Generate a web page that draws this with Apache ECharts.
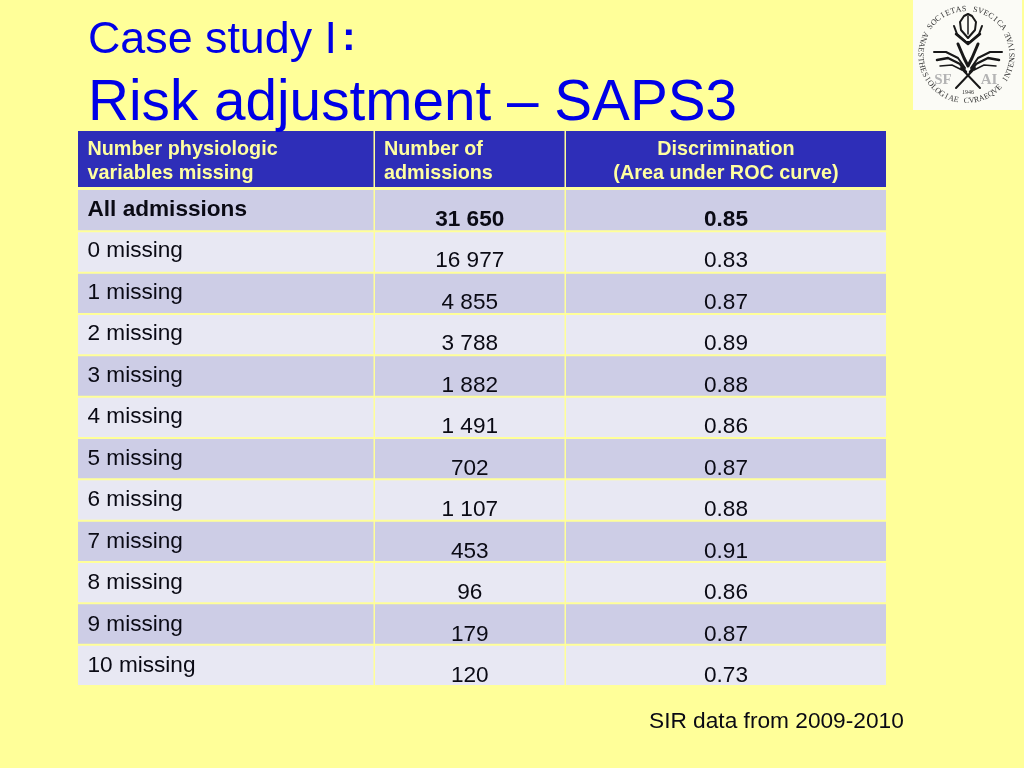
<!DOCTYPE html>
<html><head><meta charset="utf-8">
<style>html,body{margin:0;padding:0;background:#ffff99}#c{width:1024px;height:768px}</style>
<script src="https://cdn.jsdelivr.net/npm/echarts@6/dist/echarts.min.js"></script>
</head><body><div id="c"></div>
<script>
const headers = [['Number physiologic','variables missing'],['Number of','admissions'],['Discrimination','(Area under ROC curve)']];
const categories = ['All admissions','0 missing','1 missing','2 missing','3 missing','4 missing','5 missing','6 missing','7 missing','8 missing','9 missing','10 missing'];
const admissions = [31650,16977,4855,3788,1882,1491,702,1107,453,96,179,120];
const discrimination = [0.85,0.83,0.87,0.89,0.88,0.86,0.87,0.88,0.91,0.86,0.87,0.73];

const colEdges = [0,295.5,486.5,808];
const fontFam = '"Liberation Sans",Arial,sans-serif';
const fmtCount = v => String(v).replace(/\B(?=(\d{3})+$)/g,' ');
const colX = (api,c)=>[api.coord([colEdges[c],0])[0],api.coord([colEdges[c+1],0])[0]];

function bodyCell(params,api){
  const c=api.value(0), r=api.value(1);
  const [x0,x1]=colX(api,c);
  const cy=api.coord([0,r])[1], h=api.size([0,1])[1];
  const bold=r===0;
  const text=c===0?categories[r]:c===1?fmtCount(admissions[r]):discrimination[r].toFixed(2);
  const rect={type:'rect',shape:{x:x0+(c?1.5:0),y:cy-h/2+(r?1:0),width:x1-x0-(c?1.5:0),height:h-(r?2:1)},
    style:{fill:r%2===0?'#cdcde6':'#e8e8f3'}};
  const label={type:'text',style:{
    x:c===0?x0+9.5:(x0+x1+1.5)/2, y:c===0?cy-1+r*0.14:cy+8.7+r*0.18, text,
    fill:'#0a0a14', fontFamily:fontFam, fontSize:22.6, fontWeight:bold?'bold':'normal',
    align:c===0?'left':'center', verticalAlign:'middle'}};
  return {type:'group',children:[rect,label]};
}
function headCell(params,api){
  const c=api.value(0);
  const [x0,x1]=colX(api,c);
  const cy=api.coord([0,0])[1], h=api.size([0,1])[1];
  const rect={type:'rect',shape:{x:x0+(c?1.5:0),y:cy-h/2,width:x1-x0-(c?1.5:0),height:h},style:{fill:'#2e2eb8'}};
  const lines=headers[c].map((t,i)=>({type:'text',style:{
    x:c===2?(x0+x1+1.5)/2:x0+(c?10.5:9.5), y:cy-9.5+i*24, text:t, fill:'#ffffa0',
    fontFamily:fontFam, fontSize:19.8, fontWeight:'bold', align:c===2?'center':'left', verticalAlign:'middle'}}));
  return {type:'group',children:[rect,...lines]};
}
const bodyData=[]; categories.forEach((_,r)=>[0,1,2].forEach(c=>bodyData.push([c,r])));
const headData=[[0,0],[1,0],[2,0]];

/* society seal in the corner, a decorative image in the reference */
const sealC=[966.5,55];
function arcLetters(str,r,startDeg,stepDeg,bottom){
  return str.split('').map((ch,i)=>{
    const a=(startDeg+i*stepDeg)*Math.PI/180;
    return {type:'text',silent:true,x:sealC[0]+r*Math.sin(a),y:sealC[1]-r*Math.cos(a),
      rotation:bottom?-(a-Math.PI):-a,
      style:{text:ch,fill:'#333',font:'8px "Liberation Serif",serif',align:'center',verticalAlign:'middle'}};
  });
}
const sealStrokes=[
 [2,[[968,38],[961,30],[960,22],[964,16],[968,14],[972,16],[976,22],[975,30],[968,38]]],
 [1.5,[[968,16],[968,34]]],
 [2,[[954,26],[957,34],[966,42],[970,42],[979,34],[982,26]]],
 [2.5,[[956,34],[968,44],[980,34]]],
 [3,[[958,44],[964,58],[968,66],[972,58],[978,44]]],
 [2,[[934,52],[946,52],[958,58],[965,68]]],
 [2,[[1002,52],[990,52],[978,58],[971,68]]],
 [2.5,[[937,60],[948,58],[960,64],[966,72]]],
 [2.5,[[999,60],[988,58],[976,64],[970,72]]],
 [1.5,[[940,66],[952,65],[962,70]]],
 [1.5,[[996,66],[984,65],[974,70]]],
 [2,[[961,68],[980,88]]],
 [2,[[975,68],[956,88]]]
];
const graphics=[
 {type:'rect',silent:true,shape:{x:913,y:0,width:109,height:110},style:{fill:'#fbfbf6'}},
 ...arcLetters('SOCIETAS SVECICA',46,-52,7,false),
 ...arcLetters('ANAESTHESIOLOGIAE CVRAEQVE INTENSIVAE',46,296,-6.44,true),
 ...sealStrokes.map(([w,p])=>({type:'polyline',silent:true,shape:{points:p},style:{fill:null,stroke:'#181818',lineWidth:w,lineJoin:'round',lineCap:'round'}})),
 {type:'text',silent:true,x:943,y:80,style:{text:'SF',fill:'#b4b4b4',font:'bold 15px "Liberation Serif",serif',align:'center',verticalAlign:'middle'}},
 {type:'text',silent:true,x:989,y:80,style:{text:'AI',fill:'#b4b4b4',font:'bold 15px "Liberation Serif",serif',align:'center',verticalAlign:'middle'}},
 {type:'text',silent:true,x:968,y:92,style:{text:'1946',fill:'#333',font:'6px "Liberation Serif",serif',align:'center',verticalAlign:'middle'}}
];

const chart=echarts.init(document.getElementById('c'),null,{renderer:'canvas'});
const hiddenAxis={show:false};
chart.setOption({
  animation:false,
  backgroundColor:'#ffff99',
  title:[
    {text:'Case study I',left:88,top:18,padding:0,textStyle:{color:'#0000e6',fontFamily:fontFam,fontWeight:'normal',fontSize:44.8}},
    {text:':',left:342,top:18,padding:0,textStyle:{color:'#0000e6',fontFamily:fontFam,fontWeight:'bold',fontSize:41}},
    {text:'Risk adjustment – SAPS3',left:88,top:76,padding:0,textStyle:{color:'#0000e6',fontFamily:fontFam,fontWeight:'normal',fontSize:56.7}},
    {text:'SIR data from 2009-2010',left:649,top:710,padding:0,textStyle:{color:'#0a0a14',fontFamily:fontFam,fontWeight:'normal',fontSize:22.7}}
  ],
  grid:[
    {left:78,top:131,width:808,height:56},
    {left:78,top:190,width:808,height:496}
  ],
  xAxis:[
    {gridIndex:0,type:'value',min:0,max:808,...hiddenAxis},
    {gridIndex:1,type:'value',min:0,max:808,...hiddenAxis}
  ],
  yAxis:[
    {gridIndex:0,type:'category',data:['header'],...hiddenAxis},
    {gridIndex:1,type:'category',data:categories,inverse:true,...hiddenAxis}
  ],
  graphic:graphics,
  series:[
    {type:'custom',xAxisIndex:0,yAxisIndex:0,silent:true,clip:false,renderItem:headCell,data:headData,encode:{x:0,y:1}},
    {type:'custom',xAxisIndex:1,yAxisIndex:1,silent:true,clip:false,renderItem:bodyCell,data:bodyData,encode:{x:0,y:1}}
  ]
});
</script></body></html>
